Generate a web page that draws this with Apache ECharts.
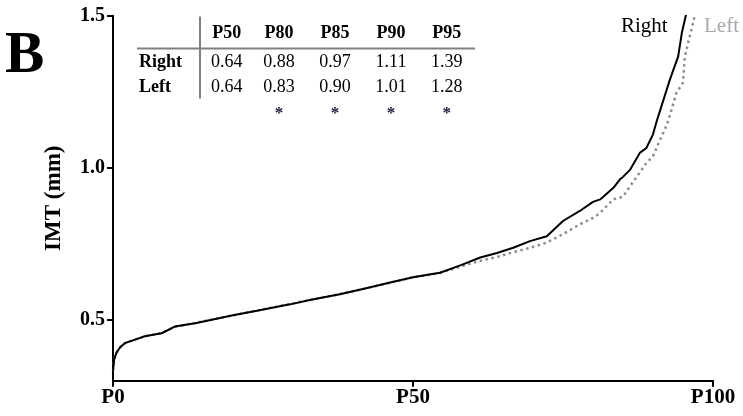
<!DOCTYPE html>
<html>
<head>
<meta charset="utf-8">
<script src="https://cdn.jsdelivr.net/npm/echarts@6/dist/echarts.min.js"></script>
<style>html,body{margin:0;padding:0;background:#fff}#c{width:743px;height:416px}</style>
</head>
<body>
<div id="c"></div>
<script>
// percentile positions and IMT values (mm)
const rightP = [0, 0.2, 0.6, 1.2, 2, 3.1, 5.3, 8.1, 10.3, 13.7, 20, 24, 29.5, 33, 37.8, 42, 46.2, 50, 54.5, 58, 61.2, 64, 66.7, 69.5, 72.3, 75, 77.8, 80, 81.2, 83.4, 84.5, 85, 86.2, 87.8, 88.9, 90, 90.6, 91.4, 92.8, 94.2, 94.8, 95.5];
const rightV = [0.333, 0.371, 0.393, 0.41, 0.424, 0.431, 0.446, 0.456, 0.478, 0.489, 0.515, 0.530, 0.551, 0.566, 0.584, 0.603, 0.623, 0.640, 0.655, 0.680, 0.705, 0.720, 0.737, 0.759, 0.775, 0.825, 0.858, 0.888, 0.896, 0.934, 0.962, 0.970, 0.994, 1.049, 1.065, 1.110, 1.152, 1.202, 1.289, 1.366, 1.443, 1.503];
const leftP = [0, 0.2, 0.6, 1.2, 2, 3.1, 5.3, 8.1, 10.3, 13.7, 20, 24, 29.5, 33, 37.8, 42, 46.2, 50, 54.5, 58, 61.2, 64, 66.7, 69.5, 72.3, 75, 77.8, 80, 81.2, 83.4, 85, 86.2, 88.9, 90, 91.2, 92.2, 92.6, 93.9, 95, 95.3, 96.4, 97];
const leftV = [0.333, 0.370, 0.392, 0.410, 0.423, 0.432, 0.446, 0.457, 0.477, 0.490, 0.515, 0.531, 0.552, 0.566, 0.585, 0.603, 0.622, 0.640, 0.654, 0.676, 0.694, 0.707, 0.722, 0.737, 0.754, 0.782, 0.814, 0.835, 0.852, 0.896, 0.905, 0.940, 1.016, 1.038, 1.093, 1.137, 1.158, 1.246, 1.280, 1.366, 1.454, 1.503];
const xTicks = [0, 50, 100];
const yTicks = [0.5, 1.0, 1.5];
const tableCols = ['P50', 'P80', 'P85', 'P90', 'P95'];
const tableRows = ['Right', 'Left'];
const tableRight = ['0.64', '0.88', '0.97', '1.11', '1.39'];
const tableLeft = ['0.64', '0.83', '0.90', '1.01', '1.28'];
const tableSig = ['', '*', '*', '*', '*'];

const serif = '"Liberation Serif", "Times New Roman", serif';
const chart = echarts.init(document.getElementById('c'), null, {renderer: 'canvas'});

const colX = [226.7, 279, 335, 391, 446.7];
const graphics = [];
graphics.push({type: 'text', left: 5, top: 27, style: {text: 'B', font: 'bold 59px ' + serif, fill: '#000'}});
// table
tableCols.forEach((t, i) => graphics.push({type: 'text', x: colX[i], y: 33.5, style: {text: t, font: 'bold 18px ' + serif, fill: '#000', textAlign: 'center', textVerticalAlign: 'middle'}}));
tableRows.forEach((t, j) => graphics.push({type: 'text', x: 139, y: j === 0 ? 62 : 87.5, style: {text: t, font: 'bold 18px ' + serif, fill: '#000', textAlign: 'left', textVerticalAlign: 'middle'}}));
tableRight.forEach((t, i) => graphics.push({type: 'text', x: colX[i], y: 62, style: {text: t, font: '18px ' + serif, fill: '#000', textAlign: 'center', textVerticalAlign: 'middle'}}));
tableLeft.forEach((t, i) => graphics.push({type: 'text', x: colX[i], y: 87.5, style: {text: t, font: '18px ' + serif, fill: '#000', textAlign: 'center', textVerticalAlign: 'middle'}}));
tableSig.forEach((t, i) => graphics.push({type: 'text', x: colX[i], y: 114, style: {text: t, font: 'bold 17px ' + serif, fill: '#1a1a3a', textAlign: 'center', textVerticalAlign: 'middle'}}));
graphics.push({type: 'line', shape: {x1: 137, y1: 48.5, x2: 475, y2: 48.5}, style: {stroke: '#808080', lineWidth: 2}});
graphics.push({type: 'line', shape: {x1: 200, y1: 16.5, x2: 200, y2: 98.5}, style: {stroke: '#808080', lineWidth: 2}});
// legend labels
graphics.push({type: 'text', x: 621, y: 26, style: {text: 'Right', font: '21px ' + serif, fill: '#000', textAlign: 'left', textVerticalAlign: 'middle'}});
graphics.push({type: 'text', x: 704, y: 26, style: {text: 'Left', font: '21px ' + serif, fill: '#a9a9b0', textAlign: 'left', textVerticalAlign: 'middle'}});

chart.setOption({
  animation: false,
  backgroundColor: '#fff',
  grid: {left: 113, right: 30, top: 15.7, bottom: 35.3, containLabel: false},
  xAxis: {
    type: 'value', min: 0, max: 100, interval: 50,
    axisLine: {lineStyle: {color: '#000', width: 2}},
    axisTick: {length: 6, lineStyle: {color: '#000', width: 2}},
    axisLabel: {formatter: v => 'P' + v, color: '#000', fontFamily: serif, fontWeight: 'bold', fontSize: 21, margin: 6},
    splitLine: {show: false}
  },
  yAxis: {
    type: 'value', min: 0.3, max: 1.5,
    name: 'IMT (mm)', nameLocation: 'middle', nameGap: 47, nameRotate: 90,
    nameTextStyle: {color: '#000', fontFamily: serif, fontWeight: 'bold', fontSize: 23},
    axisLine: {show: true, lineStyle: {color: '#000', width: 2}},
    axisTick: {show: true, length: 6, customValues: yTicks, lineStyle: {color: '#000', width: 2}},
    axisLabel: {customValues: yTicks, formatter: v => v.toFixed(1), color: '#000', fontFamily: serif, fontWeight: 'bold', fontSize: 20, margin: 8},
    splitLine: {show: false}
  },
  series: [
    {
      name: 'Left', type: 'line', showSymbol: false, z: 2,
      data: leftP.map((p, i) => [p, leftV[i]]),
      lineStyle: {color: '#8c8c8c', width: 2.5, type: [2.5, 3.5]}
    },
    {
      name: 'Right', type: 'line', showSymbol: false, z: 3,
      data: rightP.map((p, i) => [p, rightV[i]]),
      lineStyle: {color: '#000', width: 2}
    }
  ],
  graphic: graphics
});
</script>
</body>
</html>
